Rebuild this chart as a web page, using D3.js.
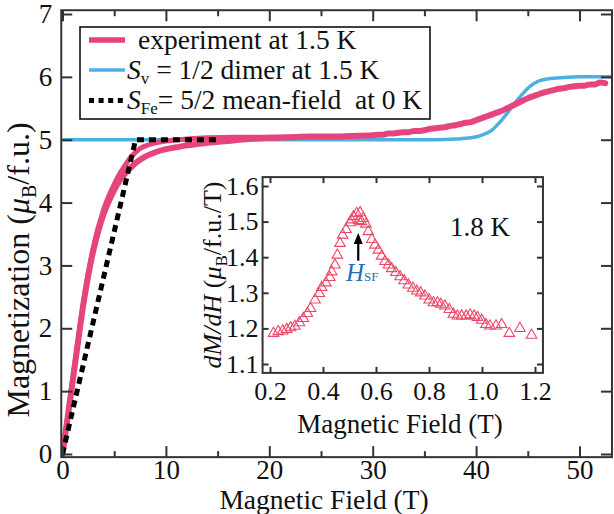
<!DOCTYPE html>
<html><head><meta charset="utf-8">
<script src="https://cdn.jsdelivr.net/npm/d3@7"></script>
<style>
body{margin:0;background:#fff}
text{font-family:"Liberation Serif","Times New Roman",serif;fill:#111}
</style>
</head><body>
<svg id="c" width="614" height="514"></svg>
<script>
// ---------- data ----------
const xTicks = [0, 10, 20, 30, 40, 50];
const xMinorTicks = [5, 15, 25, 35, 45];
const yTicks = [0, 1, 2, 3, 4, 5, 6, 7];
const insetXTicks = [0.2, 0.4, 0.6, 0.8, 1.0, 1.2];
const insetYTicks = [1.1, 1.2, 1.3, 1.4, 1.5, 1.6];

// experiment, branch A (full sweep)
const expFieldA = [0,0.5,1,1.5,2,2.5,3,3.5,4,4.5,5,5.5,6,6.5,7,7.5,8,9,10,11,12,14,16,18,20,22,24,26,28,
  30,30.5,31,31.5,32,32.5,33,33.5,34,34.5,35,35.5,36,36.5,37,37.5,38,38.5,39,39.5,40,40.5,41,41.5,42,42.5,43,43.5,44,44.5,45,45.5,46,46.5,47,47.5,48,48.5,49,49.5,50,50.5,51,51.5,52,52.5];
const expMomentA = [0,0.58,1.18,1.78,2.36,2.85,3.25,3.57,3.83,4.03,4.2,4.34,4.45,4.54,4.62,4.68,4.73,4.8,4.85,4.88,4.91,4.95,4.98,5.01,5.03,5.04,5.05,5.05,5.06,
  5.07,5.08,5.08,5.10,5.10,5.11,5.12,5.12,5.14,5.14,5.15,5.17,5.18,5.19,5.20,5.22,5.23,5.25,5.27,5.28,5.31,5.34,5.37,5.40,5.43,5.46,5.50,5.54,5.58,5.62,5.66,5.69,5.72,5.75,5.77,5.79,5.81,5.82,5.84,5.85,5.86,5.86,5.88,5.88,5.91,5.90];
// experiment, branch B (reaches saturation earlier)
const expFieldB = [0,1,2,3,4,5,5.5,6,6.5,7,7.5,8,9,10,12,14,17,20,22,24];
const expMomentB = [0,1.2,2.39,3.3,3.9,4.29,4.45,4.58,4.7,4.79,4.86,4.9,4.95,4.98,5.01,5.03,5.04,5.04,5.04,5.05];

// Sv = 1/2 dimer at 1.5 K
const dimerField = [0,36,38,39.5,40.5,41.5,42.3,43,43.7,44.5,45.3,46,47,48.5,50,53.3];
const dimerMoment = [5,5,5.01,5.03,5.07,5.15,5.28,5.42,5.57,5.73,5.86,5.93,5.97,5.99,6.0,6.0];

// SFe = 5/2 mean-field at 0 K
const mfField = [0, 7.07, 15];
const mfMoment = [0, 5, 5];

// inset dM/dH at 1.8 K
const dmdhField = [0.213,0.231,0.248,0.263,0.278,0.294,0.311,0.326,0.341,0.353,0.370,0.386,0.395,0.411,0.426,0.433,0.445,0.454,0.464,0.474,0.487,0.502,0.508,0.515,0.527,0.535,0.540,0.545,0.552,0.562,0.571,0.584,0.596,0.609,0.621,0.634,0.647,0.659,0.675,0.691,0.706,0.722,0.739,0.754,0.769,0.785,0.801,0.817,0.832,0.844,0.860,0.877,0.892,0.907,0.923,0.940,0.955,0.970,0.983,0.999,1.015,1.030,1.053,1.074,1.103,1.143,1.187];
const dmdhValue = [1.186,1.191,1.193,1.197,1.202,1.206,1.216,1.228,1.242,1.256,1.280,1.298,1.315,1.328,1.343,1.359,1.378,1.406,1.439,1.462,1.478,1.497,1.505,1.514,1.523,1.503,1.525,1.500,1.509,1.493,1.472,1.450,1.434,1.420,1.403,1.388,1.378,1.368,1.357,1.345,1.334,1.322,1.313,1.305,1.300,1.291,1.280,1.272,1.272,1.268,1.263,1.253,1.240,1.235,1.235,1.235,1.238,1.235,1.231,1.223,1.211,1.207,1.207,1.211,1.186,1.200,1.181];

const legendLabels = ["experiment at 1.5 K", "1/2 dimer at 1.5 K", "5/2 mean-field  at 0 K"];

// ---------- colours ----------
const PINK = "#e6447f", BLUE = "#4bb0e3", TRI = "#ec4768", AX = "#333";
const FONT = '"Liberation Serif","Times New Roman",serif';

const svg = d3.select("#c");

// ---------- main scales ----------
const x = d3.scaleLinear().domain([0, 50]).range([62.5, 579.5]);
const y = d3.scaleLinear().domain([0, 7]).range([454, 14]);
const xL = x(-0.12), xR = x(53.14), yT = y(7.06), yB = y(-0.05);

svg.append("defs").append("clipPath").attr("id", "clipMain")
  .append("rect").attr("x", xL).attr("y", yT).attr("width", xR - xL).attr("height", yB - yT);

const smooth = d3.line().x(d => x(d[0])).y(d => y(d[1])).curve(d3.curveMonotoneX);
const straight = d3.line().x(d => x(d[0])).y(d => y(d[1]));
const plot = svg.append("g").attr("clip-path", "url(#clipMain)");

plot.append("path").datum(dimerField.map((f, i) => [f, dimerMoment[i]]))
  .attr("d", smooth).attr("fill", "none").attr("stroke", BLUE).attr("stroke-width", 3.5);

plot.append("path").datum(expFieldB.map((f, i) => [f, expMomentB[i]]))
  .attr("d", smooth).attr("fill", "none").attr("stroke", PINK).attr("stroke-width", 5)
  .attr("stroke-linejoin", "round").attr("stroke-linecap", "round");
plot.append("path").datum(expFieldA.map((f, i) => [f, expMomentA[i]]))
  .attr("d", smooth).attr("fill", "none").attr("stroke", PINK).attr("stroke-width", 6)
  .attr("stroke-linejoin", "round").attr("stroke-linecap", "round");

plot.append("path").datum(mfField.map((f, i) => [f, mfMoment[i]]))
  .attr("d", straight).attr("fill", "none").attr("stroke", "#000").attr("stroke-width", 5).attr("stroke-dasharray", "7,5");

// ---------- main axes ----------
const gx = svg.append("g").attr("transform", `translate(0,${yB})`)
  .call(d3.axisBottom(x).tickValues(xTicks).tickSizeInner(-11).tickSizeOuter(0).tickFormat(d3.format("d")));
const gxm = svg.append("g").attr("transform", `translate(0,${yB})`)
  .call(d3.axisBottom(x).tickValues(xMinorTicks).tickSizeInner(-6).tickSizeOuter(0).tickFormat(""));
const gxt = svg.append("g").attr("transform", `translate(0,${yT})`)
  .call(d3.axisTop(x).tickValues(xTicks).tickSizeInner(-11).tickSizeOuter(0).tickFormat(""));
const gxtm = svg.append("g").attr("transform", `translate(0,${yT})`)
  .call(d3.axisTop(x).tickValues(xMinorTicks).tickSizeInner(-6).tickSizeOuter(0).tickFormat(""));
const gy = svg.append("g").attr("transform", `translate(${xL},0)`)
  .call(d3.axisLeft(y).tickValues(yTicks).tickSizeInner(-11).tickSizeOuter(0).tickPadding(9).tickFormat(d3.format("d")));
const gyr = svg.append("g").attr("transform", `translate(${xR},0)`)
  .call(d3.axisRight(y).tickValues(yTicks).tickSizeInner(-11).tickSizeOuter(0).tickFormat(""));

[gx, gxm, gxt, gxtm, gy, gyr].forEach(g => {
  g.select(".domain").remove();
  g.selectAll(".tick line").attr("stroke", AX).attr("stroke-width", 2);
  g.selectAll(".tick text").style("font-size", "27px").attr("fill", "#111").style("font-family", FONT);
});
gx.selectAll(".tick text").attr("y", 22).attr("dy", null);
svg.append("rect").attr("x", xL).attr("y", yT).attr("width", xR - xL).attr("height", yB - yT)
  .attr("fill", "none").attr("stroke", AX).attr("stroke-width", 2);

// axis titles
svg.append("text").attr("x", 324).attr("y", 509).attr("text-anchor", "middle")
  .style("font-size", "27.5px").text("Magnetic Field (T)");
const yt = svg.append("text").attr("transform", `translate(29,270) rotate(-90)`).attr("text-anchor", "middle")
  .style("font-size", "32px");
yt.append("tspan").text("Magnetization (");
yt.append("tspan").style("font-style", "italic").text("μ");
yt.append("tspan").attr("dy", 7).style("font-size", "20px").text("B");
yt.append("tspan").attr("dy", -7).text("/f.u.)");

// ---------- legend ----------
const lg = svg.append("g");
lg.append("rect").attr("x", 80).attr("y", 27).attr("width", 350).attr("height", 92)
  .attr("fill", "#fff").attr("stroke", "#111").attr("stroke-width", 1.6);
lg.append("line").attr("x1", 89).attr("x2", 125).attr("y1", 40).attr("y2", 40).attr("stroke", PINK).attr("stroke-width", 5.5);
lg.append("line").attr("x1", 89).attr("x2", 125).attr("y1", 70).attr("y2", 70).attr("stroke", BLUE).attr("stroke-width", 3.5);
lg.append("line").attr("x1", 89).attr("x2", 125).attr("y1", 100.5).attr("y2", 100.5).attr("stroke", "#000").attr("stroke-width", 5).attr("stroke-dasharray", "5,4.6");
lg.append("text").attr("x", 138).attr("y", 49).style("font-size", "27.5px").text(legendLabels[0]);
const l2 = lg.append("text").attr("x", 127).attr("y", 79).style("font-size", "27.5px");
l2.append("tspan").style("font-style", "italic").text("S");
l2.append("tspan").attr("dy", 5).style("font-size", "17px").text("v");
l2.append("tspan").attr("dy", -5).text(" = " + legendLabels[1]);
const l3 = lg.append("text").attr("x", 127).attr("y", 109).style("font-size", "27.5px").attr("xml:space", "preserve").style("white-space", "pre");
l3.append("tspan").style("font-style", "italic").text("S");
l3.append("tspan").attr("dy", 5).style("font-size", "17px").text("Fe");
l3.append("tspan").attr("dy", -5).text("= " + legendLabels[2]);

// ---------- inset ----------
const ix = d3.scaleLinear().domain([0.2, 1.2]).range([270, 535]);
const iy = d3.scaleLinear().domain([1.1, 1.6]).range([364, 186]);
const iL = ix(0.172), iR = ix(1.23), iT = iy(1.625), iB = iy(1.075);

svg.append("rect").attr("x", iL).attr("y", iT).attr("width", iR - iL).attr("height", iB - iT).attr("fill", "#fff");

svg.append("g").selectAll("path").data(dmdhField.map((f, i) => [f, dmdhValue[i]])).join("path")
  .attr("transform", d => `translate(${ix(d[0])},${iy(d[1])})`)
  .attr("d", d3.symbol(d3.symbolTriangle, 48))
  .attr("fill", "none").attr("stroke", TRI).attr("stroke-width", 1.1);

const ig = [
  svg.append("g").attr("transform", `translate(0,${iB})`).call(d3.axisBottom(ix).tickValues(insetXTicks).tickSizeInner(-6).tickSizeOuter(0).tickPadding(10).tickFormat(d3.format(".1f"))),
  svg.append("g").attr("transform", `translate(0,${iT})`).call(d3.axisTop(ix).tickValues(insetXTicks).tickSizeInner(-6).tickSizeOuter(0).tickFormat("")),
  svg.append("g").attr("transform", `translate(${iL},0)`).call(d3.axisLeft(iy).tickValues(insetYTicks).tickSizeInner(-6).tickSizeOuter(0).tickPadding(4).tickFormat(d3.format(".1f"))),
  svg.append("g").attr("transform", `translate(${iR},0)`).call(d3.axisRight(iy).tickValues(insetYTicks).tickSizeInner(-6).tickSizeOuter(0).tickFormat(""))
];
ig.forEach(g => {
  g.select(".domain").remove();
  g.selectAll(".tick line").attr("stroke", AX).attr("stroke-width", 2);
  g.selectAll(".tick text").style("font-size", "26px").attr("fill", "#111").style("font-family", FONT);
});
ig[0].selectAll(".tick text").attr("y", 8).attr("dy", "0.75em");
svg.append("rect").attr("x", iL).attr("y", iT).attr("width", iR - iL).attr("height", iB - iT)
  .attr("fill", "none").attr("stroke", AX).attr("stroke-width", 2);

svg.append("text").attr("x", 400).attr("y", 433).attr("text-anchor", "middle")
  .style("font-size", "27px").text("Magnetic Field (T)");
const iyt = svg.append("text").attr("transform", `translate(221,${(iT + iB) / 2}) rotate(-90)`).attr("text-anchor", "middle")
  .style("font-size", "26px");
iyt.append("tspan").style("font-style", "italic").text("dM/dH");
iyt.append("tspan").text(" (");
iyt.append("tspan").style("font-style", "italic").text("μ");
iyt.append("tspan").attr("dy", 6).style("font-size", "17px").text("B");
iyt.append("tspan").attr("dy", -6).text("/f.u./T)");

svg.append("text").attr("x", 450).attr("y", 236).style("font-size", "27px").text("1.8 K");

// arrow + H_SF
const ax0 = ix(0.533);
svg.append("line").attr("x1", ax0).attr("x2", ax0).attr("y1", iy(1.39)).attr("y2", iy(1.445))
  .attr("stroke", "#000").attr("stroke-width", 2.2);
svg.append("path").attr("d", `M${ax0},${iy(1.468)} L${ax0 - 4.5},${iy(1.437)} L${ax0 + 4.5},${iy(1.437)} Z`).attr("fill", "#000");
const hs = svg.append("text").attr("x", 346).attr("y", 281).style("fill", "#1f6fba");
hs.append("tspan").style("font-style", "italic").style("font-size", "25px").text("H");
hs.append("tspan").style("font-size", "13px").text("SF");
</script>
</body></html>
